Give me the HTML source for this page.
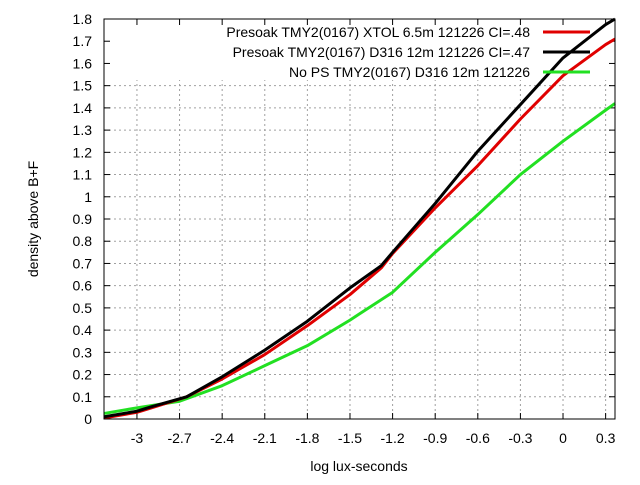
<!DOCTYPE html>
<html><head><meta charset="utf-8"><style>
body{margin:0;background:#fff}
svg text{font-family:"Liberation Sans",sans-serif;font-size:14px;fill:#000}
</style></head><body>
<svg id="chart" width="640" height="480" xmlns="http://www.w3.org/2000/svg">
<g id="grid"></g>
<rect x="105" y="20" width="509" height="60" fill="#fff"/>
<g id="ticks"></g>
<g id="series"></g>
<rect x="104" y="19" width="511" height="400" fill="none" stroke="#000" stroke-width="1"/>
<text x="38" y="219" text-anchor="middle" transform="rotate(-90 38 219)">density above B+F</text>
<text x="359" y="471" text-anchor="middle">log lux-seconds</text>
<g id="legend"></g>
</svg>
<script>
const xTicks=[-3,-2.7,-2.4,-2.1,-1.8,-1.5,-1.2,-0.9,-0.6,-0.3,0,0.3];
const xTickLabels=["-3","-2.7","-2.4","-2.1","-1.8","-1.5","-1.2","-0.9","-0.6","-0.3","0","0.3"];
const yTicks=[0,0.1,0.2,0.3,0.4,0.5,0.6,0.7,0.8,0.9,1,1.1,1.2,1.3,1.4,1.5,1.6,1.7,1.8];
const yTickLabels=["0","0.1","0.2","0.3","0.4","0.5","0.6","0.7","0.8","0.9","1","1.1","1.2","1.3","1.4","1.5","1.6","1.7","1.8"];
const seriesNames=["Presoak TMY2(0167) XTOL 6.5m 121226 CI=.48","Presoak TMY2(0167) D316 12m 121226 CI=.47","No PS TMY2(0167) D316 12m 121226"];
const seriesColors=["#e00000","#000000","#22e022"];
const redX=[-3.23,-3.0,-2.9,-2.65,-2.4,-2.1,-1.8,-1.5,-1.28,-1.2,-0.9,-0.6,-0.3,0,0.3,0.366];
const redY=[0.005,0.03,0.05,0.10,0.18,0.29,0.42,0.56,0.68,0.745,0.95,1.14,1.35,1.545,1.685,1.71];
const blackX=[-3.23,-3.0,-2.9,-2.65,-2.4,-2.1,-1.8,-1.5,-1.28,-1.2,-0.9,-0.6,-0.3,0,0.3,0.366];
const blackY=[0.01,0.035,0.055,0.10,0.19,0.31,0.44,0.59,0.69,0.75,0.97,1.205,1.415,1.625,1.775,1.8];
const greenX=[-3.23,-3.0,-2.7,-2.4,-2.1,-1.8,-1.5,-1.44,-1.2,-0.9,-0.6,-0.3,0,0.3,0.366];
const greenY=[0.025,0.05,0.08,0.15,0.24,0.33,0.445,0.47,0.57,0.75,0.92,1.10,1.25,1.39,1.42];
const NS="http://www.w3.org/2000/svg";
const X0=-3.232,X1=0.366,Y0=0,Y1=1.8,L=104,R=615,T=19,B=419;
const sx=v=>L+(v-X0)/(X1-X0)*(R-L);
const sy=v=>B-(v-Y0)/(Y1-Y0)*(B-T);
function mk(tag,parent,attrs){const e=document.createElementNS(NS,tag);for(const k in attrs)e.setAttribute(k,attrs[k]);parent.appendChild(e);return e;}
const grid=document.getElementById('grid'),ticks=document.getElementById('ticks');
xTicks.forEach((v,i)=>{
 const g=mk('line',grid,{x1:sx(v),x2:sx(v),y1:T,y2:B,stroke:'#a0a0a0','stroke-dasharray':'2,3'});
 
 
 const t=mk('line',ticks,{x1:sx(v),x2:sx(v),y1:B,y2:B-6,stroke:'#000'});
 
 
 const t2=mk('line',ticks,{x1:sx(v),x2:sx(v),y1:T,y2:T+6,stroke:'#000'});
 
 
 const tx=mk('text',ticks,{x:sx(v),y:443,'text-anchor':'middle'});tx.textContent=xTickLabels[i];
 
 
});
yTicks.forEach((v,i)=>{
 const g=mk('line',grid,{x1:L,x2:R,y1:sy(v),y2:sy(v),stroke:'#a0a0a0','stroke-dasharray':'2,3'});
 
 
 const t=mk('line',ticks,{x1:L,x2:L+6,y1:sy(v),y2:sy(v),stroke:'#000'});
 
 
 const t2=mk('line',ticks,{x1:R,x2:R-6,y1:sy(v),y2:sy(v),stroke:'#000'});
 
 
 const tx=mk('text',ticks,{x:92,y:sy(v)+5,'text-anchor':'end'});tx.textContent=yTickLabels[i];
 
 
});
const ser=document.getElementById('series'),leg=document.getElementById('legend');
const data=[[redX,redY],[blackX,blackY],[greenX,greenY]];
const order=[2,0,1];
order.forEach(i=>{
 const pts=data[i][0].map((x,j)=>sx(x)+','+sy(data[i][1][j])).join(' ');
 const p=mk('polyline',ser,{points:pts,fill:'none',stroke:seriesColors[i],'stroke-width':3,'stroke-linejoin':'round'});
 
 
});
seriesNames.forEach((n,i)=>{
 const y=32+i*20;
 const t=mk('text',leg,{x:530,y:y+5,'text-anchor':'end'});t.textContent=n;
 
 
 const l=mk('line',leg,{x1:543,x2:590,y1:y,y2:y,stroke:seriesColors[i],'stroke-width':3});
 
 
});
</script>
</body></html>
